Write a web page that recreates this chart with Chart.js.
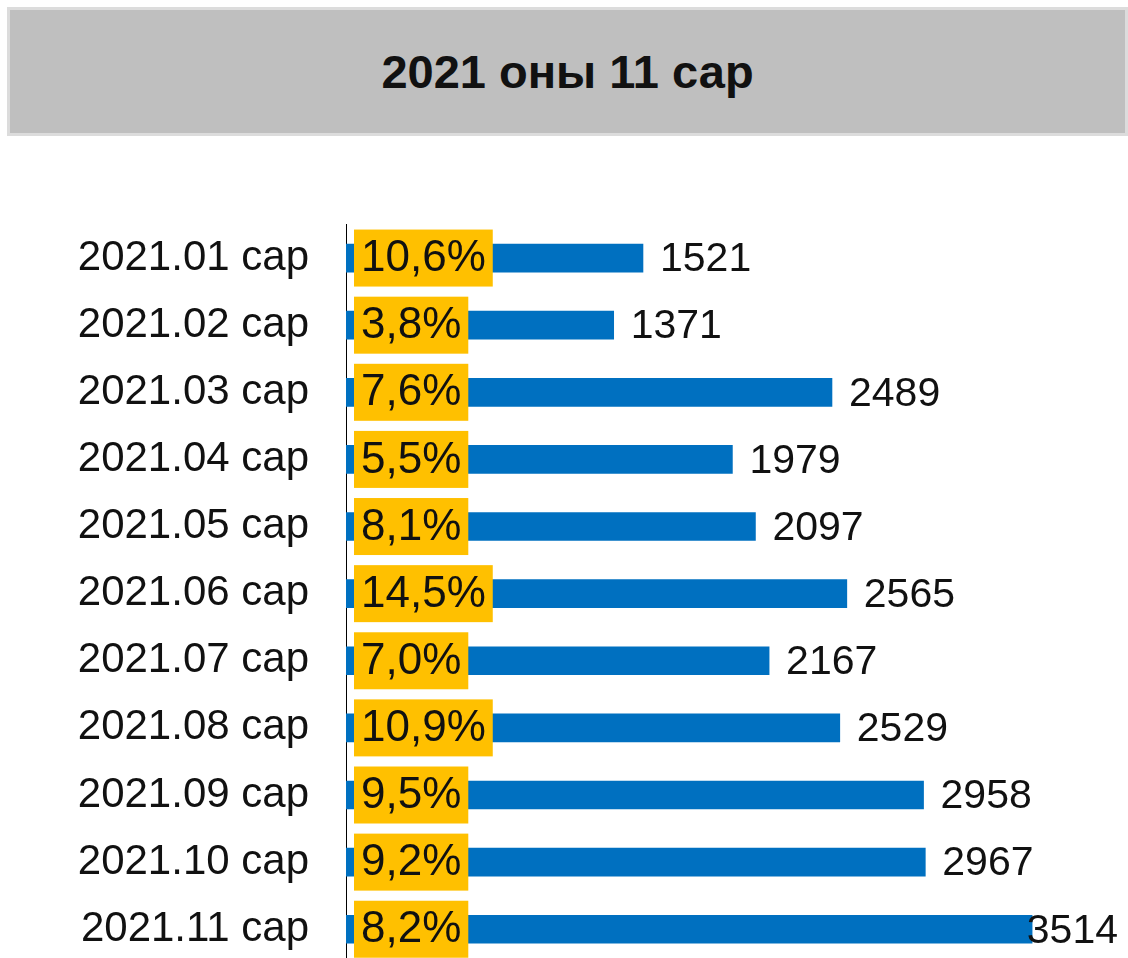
<!DOCTYPE html>
<html>
<head>
<meta charset="utf-8">
<script src="https://cdn.jsdelivr.net/npm/chart.js@4/dist/chart.umd.min.js"></script>
<style>
  html, body { margin: 0; padding: 0; background: #fff; overflow: hidden; }
  body { width: 1128px; height: 958px; position: relative; }
  #title {
    position: absolute; left: 7px; top: 7px; width: 1115px; height: 123px;
    background: #bfbfbf; border: 3px solid #dcdcdc;
    font: bold 47px "Liberation Sans", Arial, sans-serif; color: #111;
    display: flex; align-items: center; justify-content: center;
  }
  #monthChart { position: absolute; left: 0; top: 150px; }
</style>
</head>
<body>
<div id="title">2021 оны 11 сар</div>
<!-- canvas runs past the bottom of the window on purpose: last row is cut like in the source -->
<canvas id="monthChart" width="1128" height="875"></canvas>
<script>
const months = ['2021.01 сар', '2021.02 сар', '2021.03 сар', '2021.04 сар', '2021.05 сар', '2021.06 сар',
                '2021.07 сар', '2021.08 сар', '2021.09 сар', '2021.10 сар', '2021.11 сар'];
const counts = [1521, 1371, 2489, 1979, 2097, 2565, 2167, 2529, 2958, 2967, 3514];
const shares = [10.6, 3.8, 7.6, 5.5, 8.1, 14.5, 7.0, 10.9, 9.5, 9.2, 8.2];

const fontName = '"Liberation Sans", Arial, sans-serif';

// yellow percent boxes + count at the end of each bar
const barLabels = {
    id: 'barLabels',
    afterDatasetsDraw(chart) {
        const ctx = chart.ctx;
        const bars = chart.getDatasetMeta(0).data;
        ctx.save();
        ctx.textBaseline = 'middle';
        bars.forEach((bar, i) => {
            // percent box
            ctx.font = '44px ' + fontName;
            const pct = shares[i].toFixed(1).replace('.', ',') + '%';
            const w = ctx.measureText(pct).width + 14;
            const bx = bar.base + 8;
            ctx.fillStyle = '#ffc000';
            ctx.fillRect(bx, bar.y - 28.5, w, 57);
            ctx.fillStyle = '#111';
            ctx.textAlign = 'left';
            ctx.fillText(pct, bx + 7, bar.y + 1);

            // count
            ctx.font = '41px ' + fontName;
            const txt = String(counts[i]);
            const tw = ctx.measureText(txt).width;
            let tx = bar.x + 17;
            if (tx + tw > chart.width - 10) tx = chart.width - 10 - tw;
            ctx.fillText(txt, tx, bar.y + 2);
        });
        ctx.restore();
    }
};

new Chart(document.getElementById('monthChart'), {
    type: 'bar',
    data: {
        labels: months,
        datasets: [{
            label: 'Тоо',
            data: counts,
            backgroundColor: '#0070c0',
            barThickness: 28
        }]
    },
    options: {
        indexAxis: 'y',
        responsive: false,
        maintainAspectRatio: false,
        animation: false,
        layout: { padding: { top: 74.5, right: 1, left: 0, bottom: 0 } },
        plugins: {
            legend: { display: false },
            tooltip: { enabled: false }
        },
        scales: {
            x: {
                display: false,
                min: 0,
                max: 4000
            },
            y: {
                grid: { display: false, drawTicks: false },
                border: { display: true, color: '#000', width: 1 },
                ticks: {
                    color: '#111',
                    padding: 37,
                    font: { family: fontName, size: 42 }
                },
                afterFit(scale) { scale.width = 346; }
            }
        }
    },
    plugins: [barLabels]
});
</script>
</body>
</html>
